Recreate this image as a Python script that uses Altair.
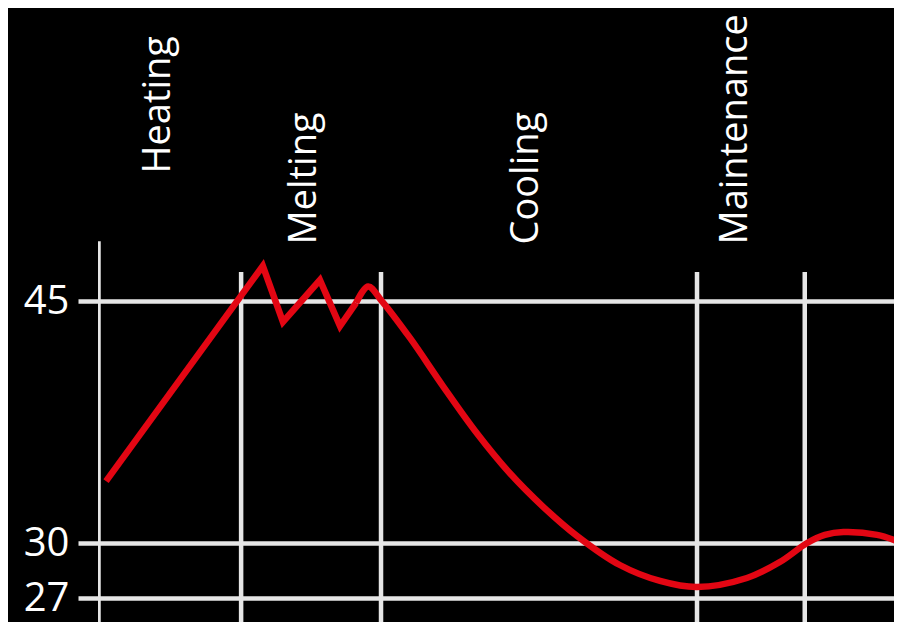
import altair as alt
import pandas as pd

# ---- data ----
phase_names = ["Heating", "Melting", "Cooling", "Maintenance"]
phase_label_x = [7.6, 25.7, 53.4, 79.4]
phase_label_y = [52.9, 48.5, 48.5, 48.5]

boundary_x = [17.8, 35.2, 74.5, 87.9]
boundary_top = [46.8, 46.8, 46.8, 46.8]
axis_line_x = [0.0]
axis_line_top = [48.7]
bottom_value = 23.5

y_ticks = [27, 30, 45]

heat_x = [1.0, 20.5, 23.0, 27.6, 30.1, 32.1]
heat_y = [33.84, 47.17, 43.70, 46.30, 43.45, 44.88]

cool_x = [32.1, 33.6, 35.2, 38.8, 42.9, 47.1, 51.2, 55.4, 59.6, 64.9,
          69.9, 74.5, 80.7, 84.8, 88.2, 90.4, 92.7, 96.9, 100.0]
cool_y = [44.88, 45.9, 45.06, 42.71, 39.73, 36.82, 34.34, 32.23, 30.43, 28.80,
          27.93, 27.60, 28.09, 28.96, 30.0, 30.5, 30.68, 30.5, 30.0]

# ---- tables ----
labels_df = pd.DataFrame({"phase": phase_names, "x": phase_label_x, "y": phase_label_y})
bounds_df = pd.DataFrame({"x": boundary_x, "top": boundary_top,
                          "bottom": [bottom_value] * len(boundary_x)})
axis_df = pd.DataFrame({"x": axis_line_x, "top": axis_line_top, "bottom": [bottom_value]})
heat_df = pd.DataFrame({"t": heat_x, "temp": heat_y})
cool_df = pd.DataFrame({"t": cool_x, "temp": cool_y})

LINE = "#e6e6e6"
RED = "#e30613"
FONT = "Open Sans"

xscale = alt.Scale(domain=[0, 99.0], nice=False, zero=False)
yscale = alt.Scale(domain=[27, 30, 45], range=[590, 535, 293], nice=False, zero=False)

yaxis = alt.Axis(values=y_ticks, title=None, grid=True, gridColor=LINE, gridWidth=4.5,
                 gridOpacity=1, ticks=True, tickSize=20, tickWidth=4.5, tickColor=LINE,
                 domain=False, labelFontSize=40, labelColor="white", labelFont=FONT,
                 labelPadding=9, labelBaseline="middle")

bounds = alt.Chart(bounds_df).mark_rule(color=LINE, strokeWidth=4.5, clip=True).encode(
    x=alt.X("x:Q", scale=xscale, axis=None),
    y=alt.Y("top:Q", scale=yscale, axis=yaxis),
    y2="bottom:Q",
)

axis_line = alt.Chart(axis_df).mark_rule(color=LINE, strokeWidth=5.5, clip=True).encode(
    x=alt.X("x:Q", scale=xscale, axis=None),
    y=alt.Y("top:Q", scale=yscale),
    y2="bottom:Q",
)

heat = alt.Chart(heat_df).mark_line(color=RED, strokeWidth=6.5, strokeJoin="miter",
                                     strokeCap="butt", interpolate="linear").encode(
    x=alt.X("t:Q", scale=xscale),
    y=alt.Y("temp:Q", scale=yscale),
    order="t:Q",
)

cool = alt.Chart(cool_df).mark_line(color=RED, strokeWidth=6.5, strokeCap="butt",
                                     interpolate="catmull-rom", clip=True).encode(
    x=alt.X("t:Q", scale=xscale),
    y=alt.Y("temp:Q", scale=yscale),
    order="t:Q",
)

labels = alt.Chart(labels_df).mark_text(angle=270, align="left", baseline="middle",
                                        font=FONT, fontSize=38, color="white").encode(
    x=alt.X("x:Q", scale=xscale),
    y=alt.Y("y:Q", scale=yscale),
    text="phase:N",
)

chart = alt.layer(bounds, axis_line, heat, cool, labels).properties(
    width=796,
    height=614,
    background="black",
    padding={"left": 90, "top": 0, "right": 0, "bottom": 0},
    autosize=alt.AutoSizeParams(type="none"),
).configure_view(stroke=None)

chart.save("out.html", embed_options={"renderer": "svg", "actions": False})
